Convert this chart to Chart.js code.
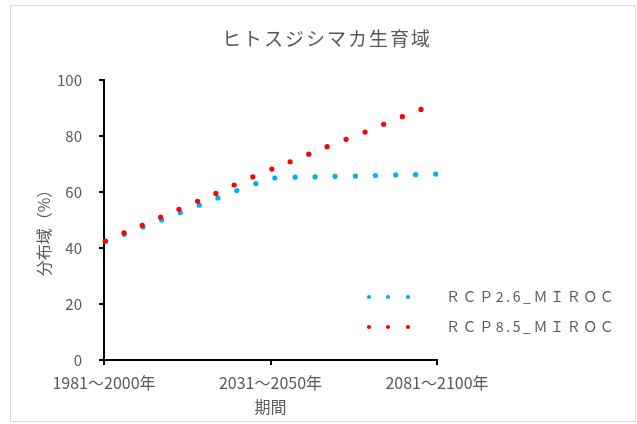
<!DOCTYPE html>
<html>
<head>
<meta charset="utf-8">
<script src="https://cdn.jsdelivr.net/npm/chart.js@4"></script>
<style>
  html, body { margin: 0; padding: 0; background: #ffffff; }
  #wrap { position: relative; width: 637px; height: 424px; }
  #c { position: absolute; left: 0; top: 0; }
  #frame { position: absolute; left: 10px; top: 5px; width: 624px; height: 415px; border: 1px solid #d9d9d9; pointer-events: none; }
</style>
</head>
<body>
<div id="wrap">
  <canvas id="c" width="637" height="424"></canvas>
  <div id="frame"></div>
</div>
<script>
// Title and axis labels
const TITLE = 'ヒトスジシマカ生育域';
const Y_TITLE = '分布域（%）';
const X_TITLE = '期間';

// Period axis: position of each labelled period (years from the first period)
const X_TICK_POS = [0, 50, 100];
const X_TICK_LABELS = ['1981～2000年', '2031～2050年', '2081～2100年'];

// Series names
const SERIES_NAMES = ['ＲＣＰ2.6_ＭＩＲＯＣ', 'ＲＣＰ8.5_ＭＩＲＯＣ'];

// RCP2.6 (MIROC): period position and distribution area (%)
const rcp26X = [0.4, 6.1, 11.7, 17.3, 22.9, 28.6, 34.2, 39.9, 45.6, 51.3, 57.4, 63.4, 69.4, 75.5, 81.5, 87.6, 93.6, 99.6];
const rcp26Y = [42.4, 44.9, 47.5, 50.0, 52.6, 55.3, 57.9, 60.5, 63.0, 65.0, 65.3, 65.4, 65.6, 65.7, 65.9, 66.1, 66.2, 66.4];

// RCP8.5 (MIROC): period position and distribution area (%)
const rcp85X = [0.4, 6.0, 11.5, 17.0, 22.5, 28.1, 33.6, 39.1, 44.7, 50.4, 55.9, 61.5, 67.0, 72.7, 78.4, 84.0, 89.6, 95.2];
const rcp85Y = [42.5, 45.4, 48.1, 51.0, 53.8, 56.7, 59.5, 62.5, 65.4, 68.2, 70.8, 73.5, 76.2, 78.8, 81.4, 84.2, 86.9, 89.5];

const COLORS = ['#00B0F0', '#FF0000'];
const TEXT = '#595959';
const FONT = '"Noto Sans CJK JP", "Noto Sans", sans-serif';

const toPoints = (xs, ys) => xs.map((x, i) => ({ x: x, y: ys[i] }));

// Chart title, rotated value-axis title and the dotted legend
const decorations = {
  id: 'decorations',
  afterDraw(chart) {
    const ctx = chart.ctx;

    ctx.save();
    ctx.fillStyle = TEXT;
    ctx.textBaseline = 'middle';

    // title
    ctx.font = '19px ' + FONT;
    ctx.letterSpacing = '2px';
    ctx.textAlign = 'center';
    ctx.fillText(TITLE, 327, 39);

    // value axis title
    ctx.save();
    ctx.letterSpacing = '0px';
    ctx.font = '16px ' + FONT;
    ctx.translate(44, 229);
    ctx.rotate(-Math.PI / 2);
    ctx.fillText(Y_TITLE, 0, 0);
    ctx.restore();

    // legend
    const rows = [297, 327];
    chart.data.datasets.forEach((ds, i) => {
      const y = rows[i];
      ctx.fillStyle = ds.backgroundColor;
      [369, 388, 408].forEach(x => {
        ctx.beginPath();
        ctx.arc(x, y, 2.1, 0, Math.PI * 2);
        ctx.fill();
      });
      ctx.fillStyle = TEXT;
      ctx.font = '14px ' + FONT;
      ctx.letterSpacing = '2.6px';
      ctx.textAlign = 'left';
      ctx.fillText(ds.label, 446, y);
    });
    ctx.restore();
  }
};

new Chart(document.getElementById('c'), {
  type: 'scatter',
  data: {
    datasets: [
      {
        label: SERIES_NAMES[0],
        data: toPoints(rcp26X, rcp26Y),
        backgroundColor: COLORS[0],
        borderColor: COLORS[0],
        pointRadius: 2.6,
        pointBorderWidth: 0,
        showLine: false,
        clip: false,
        order: 1
      },
      {
        label: SERIES_NAMES[1],
        data: toPoints(rcp85X, rcp85Y),
        backgroundColor: COLORS[1],
        borderColor: COLORS[1],
        pointRadius: 2.6,
        pointBorderWidth: 0,
        showLine: false,
        clip: false,
        order: 0
      }
    ]
  },
  options: {
    responsive: false,
    animation: false,
    events: [],
    layout: { padding: { left: 10, right: 200, top: 80, bottom: 0 } },
    plugins: {
      legend: { display: false },
      title: { display: false },
      tooltip: { enabled: false }
    },
    scales: {
      x: {
        type: 'linear',
        min: 0,
        max: 100,
        afterBuildTicks: s => { s.ticks = X_TICK_POS.map(v => ({ value: v })); },
        afterFit: s => { s.height = 64; },
        grid: { drawOnChartArea: false, drawTicks: true, tickLength: 5, color: '#000000', lineWidth: 2 },
        border: { display: true, color: '#000000', width: 2 },
        ticks: {
          autoSkip: false,
          maxRotation: 0,
          padding: 8,
          color: TEXT,
          font: { family: FONT, size: 16 },
          callback: v => X_TICK_LABELS[X_TICK_POS.indexOf(v)]
        },
        title: {
          display: true,
          text: X_TITLE,
          color: TEXT,
          font: { family: FONT, size: 16 },
          padding: { top: 0, bottom: 7 }
        }
      },
      y: {
        min: 0,
        max: 100,
        afterFit: s => { s.width = 94; },
        grid: { drawOnChartArea: false, drawTicks: true, tickLength: 5, color: '#000000', lineWidth: 2 },
        border: { display: true, color: '#000000', width: 2 },
        ticks: {
          stepSize: 20,
          padding: 17,
          color: TEXT,
          font: { family: FONT, size: 15 }
        }
      }
    }
  },
  plugins: [decorations]
});
</script>
</body>
</html>
